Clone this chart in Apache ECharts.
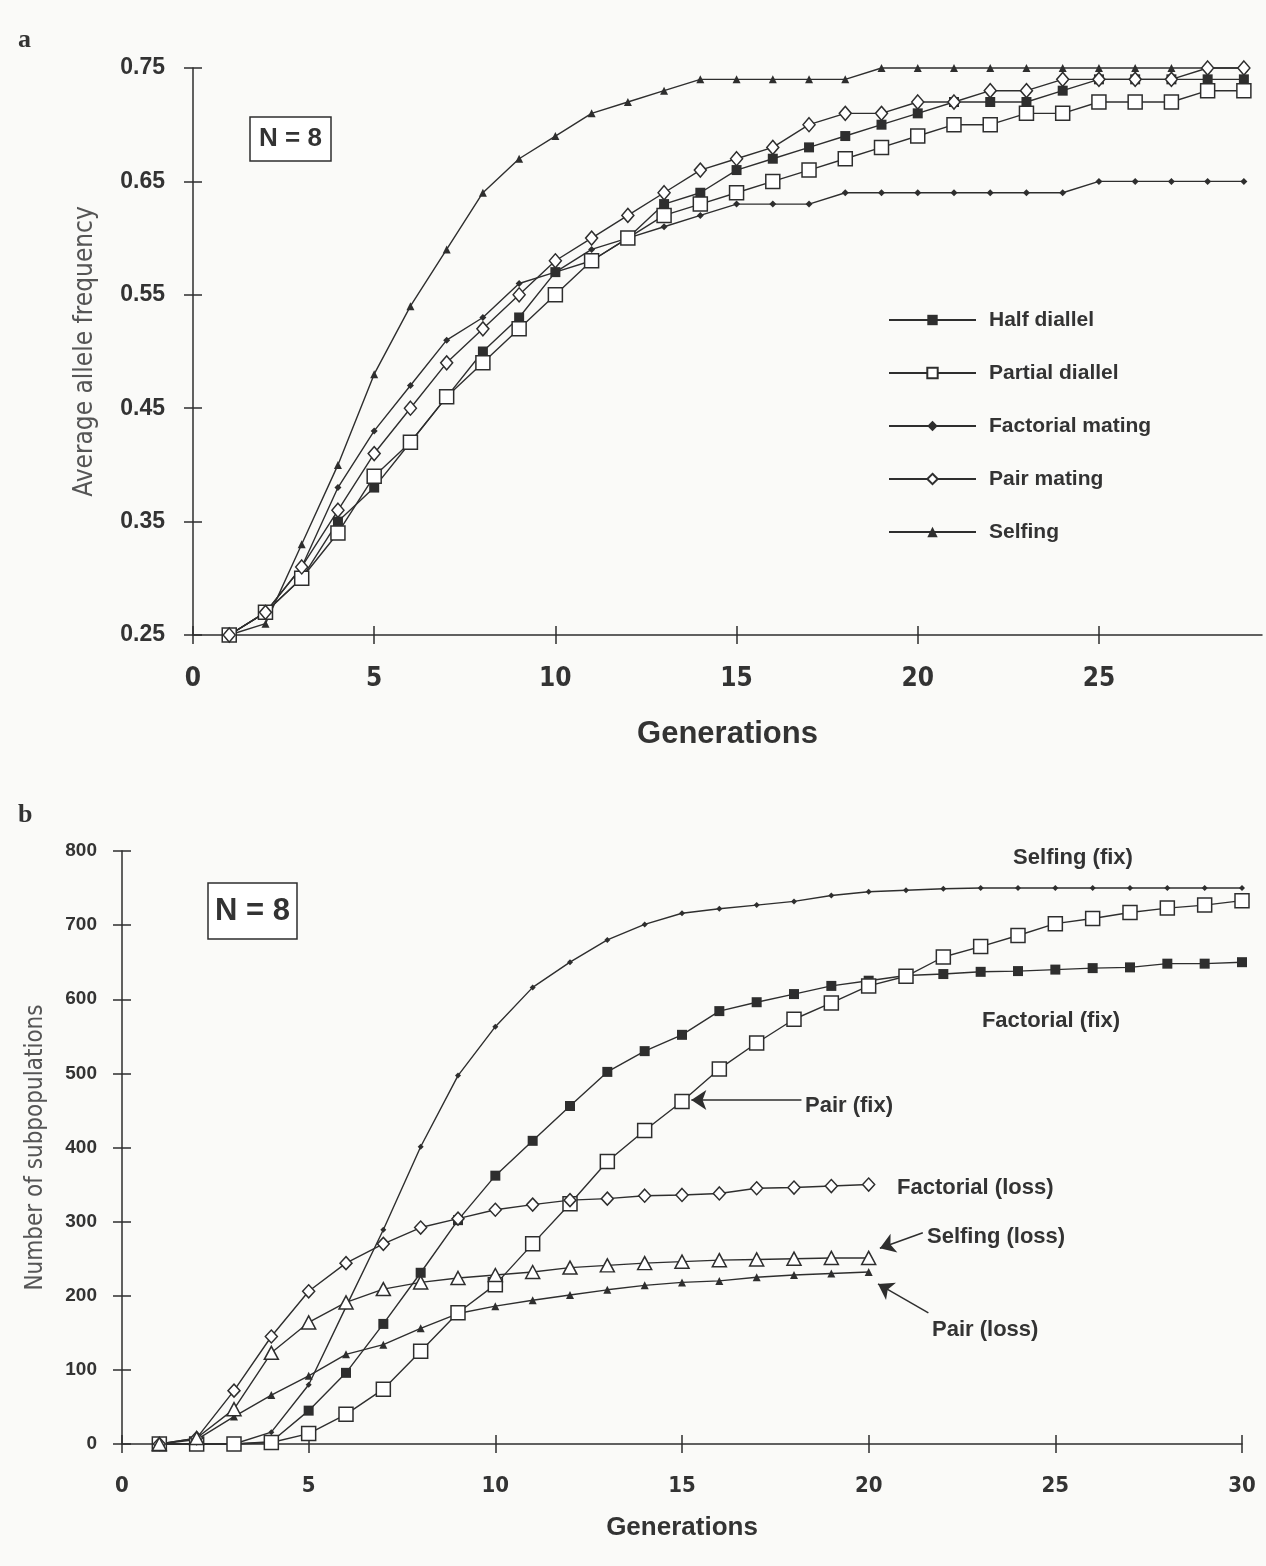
<!DOCTYPE html>
<html>
<head>
<meta charset="utf-8">
<title>Allele frequency and number of subpopulations, N = 8</title>
<script src="https://cdn.jsdelivr.net/npm/echarts@6/dist/echarts.min.js"></script>
<style>
  html, body { margin: 0; padding: 0; background: #fafaf8; }
  #chart { width: 1266px; height: 1566px; }
</style>
</head>
<body>
<div id="chart"></div>
<script>
// ---- panel a : average allele frequency ----
const gensA = [1, 2, 3, 4, 5, 6, 7, 8, 9, 10, 11, 12, 13, 14, 15, 16, 17, 18, 19, 20, 21, 22, 23, 24, 25, 26, 27, 28, 29]
const halfDiallel = [0.25, 0.27, 0.30, 0.35, 0.38, 0.42, 0.46, 0.50, 0.53, 0.57, 0.58, 0.60, 0.63, 0.64, 0.66, 0.67, 0.68, 0.69, 0.70, 0.71, 0.72, 0.72, 0.72, 0.73, 0.74, 0.74, 0.74, 0.74, 0.74]
const partialDiallel = [0.25, 0.27, 0.30, 0.34, 0.39, 0.42, 0.46, 0.49, 0.52, 0.55, 0.58, 0.60, 0.62, 0.63, 0.64, 0.65, 0.66, 0.67, 0.68, 0.69, 0.70, 0.70, 0.71, 0.71, 0.72, 0.72, 0.72, 0.73, 0.73]
const factorialMating = [0.25, 0.27, 0.31, 0.38, 0.43, 0.47, 0.51, 0.53, 0.56, 0.57, 0.59, 0.60, 0.61, 0.62, 0.63, 0.63, 0.63, 0.64, 0.64, 0.64, 0.64, 0.64, 0.64, 0.64, 0.65, 0.65, 0.65, 0.65, 0.65]
const pairMating = [0.25, 0.27, 0.31, 0.36, 0.41, 0.45, 0.49, 0.52, 0.55, 0.58, 0.60, 0.62, 0.64, 0.66, 0.67, 0.68, 0.70, 0.71, 0.71, 0.72, 0.72, 0.73, 0.73, 0.74, 0.74, 0.74, 0.74, 0.75, 0.75]
const selfing = [0.25, 0.26, 0.33, 0.40, 0.48, 0.54, 0.59, 0.64, 0.67, 0.69, 0.71, 0.72, 0.73, 0.74, 0.74, 0.74, 0.74, 0.74, 0.75, 0.75, 0.75, 0.75, 0.75, 0.75, 0.75, 0.75, 0.75, 0.75, 0.75]
const ticksAx = [0, 5, 10, 15, 20, 25]
const ticksAy = [0.25, 0.35, 0.45, 0.55, 0.65, 0.75]

// ---- panel b : number of subpopulations ----
const gensB = [1, 2, 3, 4, 5, 6, 7, 8, 9, 10, 11, 12, 13, 14, 15, 16, 17, 18, 19, 20, 21, 22, 23, 24, 25, 26, 27, 28, 29, 30]
const selfingFix = [0, 0, 0, 16, 80, 185, 289, 401, 497, 563, 616, 650, 680, 701, 716, 722, 727, 732, 740, 745, 747, 749, 750, 750, 750, 750, 750, 750, 750, 750]
const factorialFix = [0, 0, 0, 3, 45, 96, 162, 231, 302, 362, 409, 456, 502, 530, 552, 584, 596, 607, 618, 625, 632, 634, 637, 638, 640, 642, 643, 648, 648, 650]
const pairFix = [0, 0, 0, 2, 14, 40, 74, 125, 177, 215, 270, 324, 381, 423, 462, 506, 541, 573, 595, 618, 631, 657, 671, 686, 702, 709, 717, 723, 727, 733]
const gensLoss = [1, 2, 3, 4, 5, 6, 7, 8, 9, 10, 11, 12, 13, 14, 15, 16, 17, 18, 19, 20]
const factorialLoss = [0, 8, 72, 145, 206, 244, 270, 292, 304, 316, 323, 329, 331, 335, 336, 338, 345, 346, 348, 350]
const selfingLoss = [0, 8, 47, 123, 164, 191, 209, 218, 224, 228, 232, 238, 241, 244, 246, 248, 249, 250, 251, 251]
const pairLoss = [0, 6, 37, 66, 92, 121, 134, 156, 176, 186, 194, 201, 208, 214, 218, 220, 225, 228, 230, 232]

const ink = '#2e2e2e'
const sans = '"Liberation Sans", Arial, sans-serif'
const narrow = '"Liberation Sans Narrow", "DejaVu Sans Condensed", sans-serif'

const mkSeries = (name, axis, xs, ys, symbol, size, open) => ({
  name: name,
  type: 'line',
  xAxisIndex: axis,
  yAxisIndex: axis,
  data: xs.map((g, i) => [g, ys[i]]),
  symbol: symbol,
  symbolSize: size,
  showAllSymbol: true,
  clip: false,
  lineStyle: { color: ink, width: 1.4 },
  itemStyle: open
    ? { color: '#fff', borderColor: ink, borderWidth: 1.5 }
    : { color: ink, borderWidth: 0 },
  emphasis: { disabled: true },
  z: open ? 4 : 3,
})

// main axis with ticks outside, plus a bare "ghost" axis with ticks inside -> crossed ticks
const axisBase = (grid, min, max, ticks) => ({
  type: 'value',
  gridIndex: grid,
  min: min,
  max: max,
  splitLine: { show: false },
  axisLine: { show: true, lineStyle: { color: ink, width: 1.5 } },
  axisTick: { show: true, length: 9, customValues: ticks, lineStyle: { color: ink, width: 1.5 } },
})
const ghost = (grid, min, max, ticks, pos) => {
  const a = axisBase(grid, min, max, ticks)
  a.position = pos
  a.axisLine = { show: false }
  a.axisTick.inside = true
  a.axisLabel = { show: false }
  return a
}

const ticksBx = [0, 5, 10, 15, 20, 25, 30]
const ticksBy = [0, 100, 200, 300, 400, 500, 600, 700, 800]

const xTop = axisBase(0, 0, 29.5, ticksAx)
xTop.position = 'bottom'
xTop.axisLabel = { customValues: ticksAx, margin: 31, color: '#333', fontFamily: narrow, fontWeight: 'bold', fontSize: 26 }
xTop.name = 'Generations'
xTop.nameLocation = 'middle'
xTop.nameGap = 84
xTop.nameTextStyle = { color: '#333', fontFamily: sans, fontWeight: 'bold', fontSize: 31 }

const xBot = axisBase(1, 0, 30, ticksBx)
xBot.position = 'bottom'
xBot.axisLabel = { customValues: ticksBx, margin: 31, color: '#333', fontFamily: narrow, fontWeight: 'bold', fontSize: 22 }
xBot.name = 'Generations'
xBot.nameLocation = 'middle'
xBot.nameGap = 71
xBot.nameTextStyle = { color: '#333', fontFamily: sans, fontWeight: 'bold', fontSize: 26 }

const yTop = axisBase(0, 0.25, 0.75, ticksAy)
yTop.position = 'left'
yTop.axisLabel = { customValues: ticksAy, formatter: (v) => v.toFixed(2), margin: 28, color: '#333', fontFamily: sans, fontWeight: 'bold', fontSize: 23 }
yTop.name = 'Average allele frequency'
yTop.nameLocation = 'middle'
yTop.nameRotate = 90
yTop.nameGap = 95
yTop.nameTextStyle = { color: '#555', fontFamily: narrow, fontSize: 26 }

const yBot = axisBase(1, 0, 800, ticksBy)
yBot.position = 'left'
yBot.axisLabel = { customValues: ticksBy, margin: 25, color: '#333', fontFamily: sans, fontWeight: 'bold', fontSize: 19 }
yBot.name = 'Number of subpopulations'
yBot.nameLocation = 'middle'
yBot.nameRotate = 90
yBot.nameGap = 74
yBot.nameTextStyle = { color: '#555', fontFamily: narrow, fontSize: 24 }

const label = (text, x, y, align, size) => ({
  type: 'text',
  x: x,
  y: y,
  silent: true,
  style: {
    text: text,
    font: 'bold ' + (size || 22) + 'px ' + sans,
    fill: '#333',
    align: align || 'left',
    verticalAlign: 'middle',
    textAlign: align || 'left',
    textVerticalAlign: 'middle',
  },
})

const pairLossSeries = mkSeries('Pair (loss)', 1, gensLoss, pairLoss, 'triangle', 8, false)
pairLossSeries.markLine = {
  silent: true,
  animation: false,
  symbol: ['none', 'arrow'],
  symbolSize: 15,
  label: { show: false },
  emphasis: { disabled: true },
  lineStyle: { color: ink, width: 1.5, type: 'solid' },
  data: [
    [{ coord: [18.2, 464] }, { coord: [15.25, 464] }],
    [{ coord: [21.45, 285] }, { coord: [20.3, 264] }],
    [{ coord: [21.6, 177] }, { coord: [20.25, 216] }],
  ],
}

const chart = echarts.init(document.getElementById('chart'), null, { renderer: 'canvas' })
chart.setOption({
  backgroundColor: '#fafaf8',
  animation: false,
  grid: [
    { left: 193, top: 68, width: 1069, height: 567, outerBoundsMode: 'none' },
    { left: 122, top: 851, width: 1120, height: 593, outerBoundsMode: 'none' },
  ],
  xAxis: [xTop, xBot, ghost(0, 0, 29.5, ticksAx, 'bottom'), ghost(1, 0, 30, ticksBx, 'bottom')],
  yAxis: [yTop, yBot, ghost(0, 0.25, 0.75, ticksAy, 'left'), ghost(1, 0, 800, ticksBy, 'left')],
  legend: {
    data: ['Half diallel', 'Partial diallel', 'Factorial mating', 'Pair mating', 'Selfing'],
    orient: 'vertical',
    left: 888,
    top: 309,
    padding: 0,
    itemWidth: 87,
    itemHeight: 13,
    itemGap: 31,
    selectedMode: false,
    textStyle: { color: '#333', fontFamily: sans, fontWeight: 'bold', fontSize: 21, lineHeight: 22, padding: [0, 0, 0, 8] },
  },
  series: [
    mkSeries('Factorial mating', 0, gensA, factorialMating, 'diamond', 7, false),
    mkSeries('Selfing', 0, gensA, selfing, 'triangle', 8, false),
    mkSeries('Half diallel', 0, gensA, halfDiallel, 'rect', 10, false),
    mkSeries('Partial diallel', 0, gensA, partialDiallel, 'rect', 14, true),
    mkSeries('Pair mating', 0, gensA, pairMating, 'diamond', [12, 14], true),

    mkSeries('Selfing (fix)', 1, gensB, selfingFix, 'diamond', 6, false),
    mkSeries('Factorial (fix)', 1, gensB, factorialFix, 'rect', 10, false),
    pairLossSeries,
    mkSeries('Pair (fix)', 1, gensB, pairFix, 'rect', 14, true),
    mkSeries('Factorial (loss)', 1, gensLoss, factorialLoss, 'diamond', [12, 13], true),
    mkSeries('Selfing (loss)', 1, gensLoss, selfingLoss, 'triangle', [14, 13], true),
  ],
  graphic: [
    { type: 'text', x: 18, y: 40, silent: true, style: { text: 'a', font: 'bold 26px "Liberation Serif", serif', fill: '#333', verticalAlign: 'middle', textVerticalAlign: 'middle' } },
    { type: 'text', x: 18, y: 815, silent: true, style: { text: 'b', font: 'bold 26px "Liberation Serif", serif', fill: '#333', verticalAlign: 'middle', textVerticalAlign: 'middle' } },
    { type: 'rect', silent: true, shape: { x: 250, y: 117, width: 81, height: 44 }, style: { fill: '#fff', stroke: ink, lineWidth: 1.5 } },
    label('N = 8', 290.5, 139, 'center', 26),
    { type: 'rect', silent: true, shape: { x: 208, y: 883, width: 89, height: 56 }, style: { fill: '#fff', stroke: ink, lineWidth: 1.5 } },
    label('N = 8', 252.5, 911, 'center', 31),
    label('Selfing (fix)', 1073, 858, 'center'),
    label('Factorial (fix)', 1051, 1021, 'center'),
    label('Pair (fix)', 805, 1106),
    label('Factorial (loss)', 897, 1188),
    label('Selfing (loss)', 927, 1237),
    label('Pair (loss)', 932, 1330),
  ],
})
</script>
</body>
</html>
